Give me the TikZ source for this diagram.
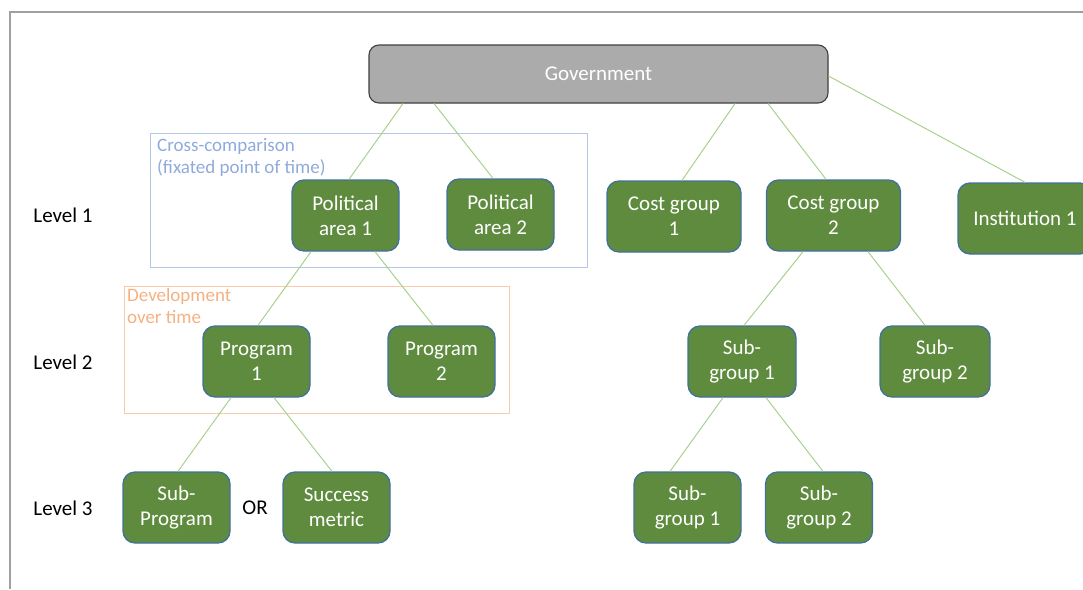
\documentclass[tikz,border=0pt]{standalone}
\usepackage{fontspec}
\setmainfont{Carlito}
\usepackage{tikz}
\definecolor{boxgreen}{HTML}{5E8B3E}
\definecolor{boxblue}{HTML}{41719C}
\definecolor{govgray}{HTML}{ABABAB}
\definecolor{govline}{HTML}{404040}
\definecolor{linkgreen}{HTML}{A9D18E}
\definecolor{crossblue}{HTML}{B4C7E7}
\definecolor{crosstext}{HTML}{8FAADC}
\definecolor{devorange}{HTML}{F8CBAD}
\definecolor{devtext}{HTML}{F4B183}
\definecolor{framegray}{HTML}{A0A0A0}

\begin{document}
\begin{tikzpicture}[x=1pt,y=-1pt,
  box/.style={draw=boxblue,fill=boxgreen,line width=1.3pt,rounded corners=12pt,
    text=white,align=center,minimum width=107pt,minimum height=71pt,
    font=\fontsize{21}{25}\selectfont},
  govbox/.style={draw=govline,fill=govgray,line width=1.1pt,rounded corners=10pt,
    text=white,minimum width=459pt,minimum height=58pt,font=\fontsize{21}{25}\selectfont},
  lvl/.style={font=\fontsize{21}{25}\selectfont},
  link/.style={draw=linkgreen,line width=1pt},
  note/.style={anchor=north west,align=left,inner sep=0pt,font=\fontsize{19}{22}\selectfont}]
\useasboundingbox (0,0) rectangle (1083,589);
\draw[framegray,line width=2pt] (10,589) -- (10,12) -- (1083,12);

\node[draw=crossblue,line width=0.9pt,minimum width=437pt,minimum height=134pt,inner sep=0pt] (cross) at (368.5,200) {};
\node[note,text=crosstext] (crosstxt) at (157,138) {Cross-comparison\\(fixated point of time)};
\node[draw=devorange,line width=0.9pt,minimum width=385pt,minimum height=127pt,inner sep=0pt] (dev) at (316.5,349.5) {};
\node[note,text=devtext] (devtxt) at (127,288) {Development\\over time};

\node[govbox] (gov) at (598.5,74) {Government};
\node[box] (pa1) at (345.5,215.5) {Political\\area 1};
\node[box] (pa2) at (500.5,214.5) {Political\\area 2};
\node[box,minimum width=134pt] (cg1) at (674,216.5) {Cost group\\1};
\node[box,minimum width=134pt] (cg2) at (833.5,215.5) {Cost group\\2};
\node[box,minimum width=134pt] (inst) at (1025,218.5) {Institution 1};
\node[box] (prog1) at (256.5,361.5) {Program\\1};
\node[box] (prog2) at (441.5,361.5) {Program\\2};
\node[box,minimum width=108pt] (sg1) at (742,361.5) {Sub-\\group 1};
\node[box,minimum width=110pt] (sg2) at (935,361.5) {Sub-\\group 2};
\node[box] (subprog) at (176.5,507.5) {Sub-\\Program};
\node[box] (metric) at (336.5,507.5) {Success\\metric};
\node[box] (sg11) at (687.5,507.5) {Sub-\\group 1};
\node[box] (sg12) at (819,507.5) {Sub-\\group 2};

\node[lvl] (lv1) at (63,215) {Level 1};
\node[lvl] (lv2) at (63,362) {Level 2};
\node[lvl] (lv3) at (63,508) {Level 3};
\node[lvl] (or) at (255,508) {OR};

\draw[link] ([xshift=-195.5pt]gov.south) -- ([xshift=3.5pt]pa1.north);
\draw[link] ([xshift=-164.5pt]gov.south) -- ([xshift=-7.5pt]pa2.north);
\draw[link] ([xshift=136.5pt]gov.south) -- ([xshift=8pt]cg1.north);
\draw[link] ([xshift=169.5pt]gov.south) -- ([xshift=-7.5pt]cg2.north);
\draw[link] ([yshift=-2pt]gov.east) -- (inst.north);
\draw[link] ([xshift=-34.5pt]pa1.south) -- ([xshift=1.5pt]prog1.north);
\draw[link] ([xshift=29.5pt]pa1.south) -- ([xshift=-8.5pt]prog2.north);
\draw[link] ([xshift=-30.5pt]cg2.south) -- ([xshift=2pt]sg1.north);
\draw[link] ([xshift=34.5pt]cg2.south) -- ([xshift=-10pt]sg2.north);
\draw[link] ([xshift=-25.5pt]prog1.south) -- ([xshift=1.5pt]subprog.north);
\draw[link] ([xshift=17.5pt]prog1.south) -- ([xshift=-4.5pt]metric.north);
\draw[link] ([xshift=-19pt]sg1.south) -- ([xshift=-17.5pt]sg11.north);
\draw[link] ([xshift=24pt]sg1.south) -- ([xshift=4pt]sg12.north);
\end{tikzpicture}
\end{document}
